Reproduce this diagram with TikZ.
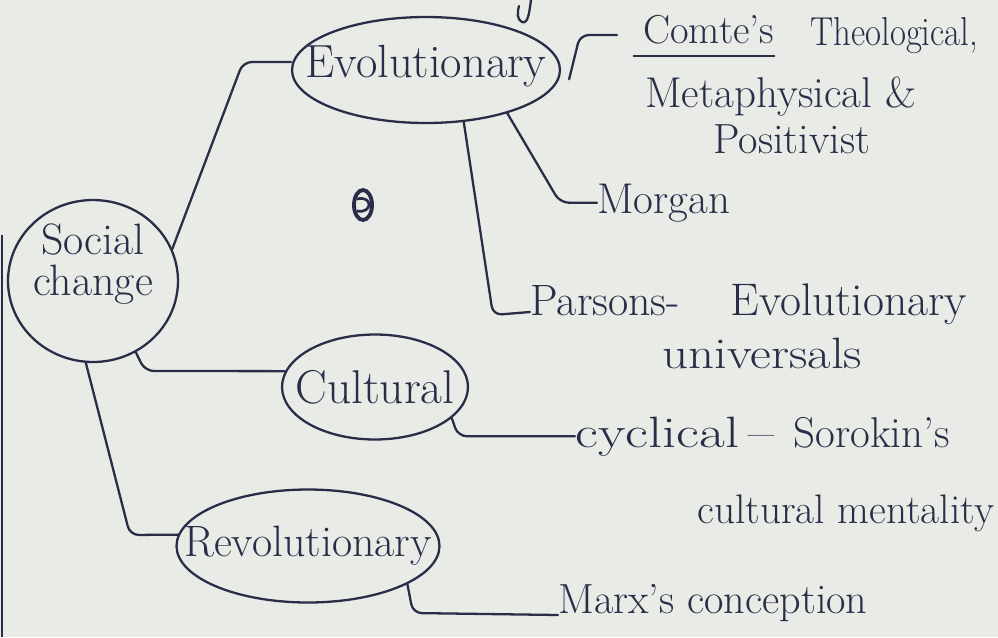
\documentclass[tikz,border=0pt]{standalone}
\usepackage{xcolor}
\usepackage{graphicx}
\usepackage{tikz}
\usetikzlibrary{positioning,shapes.geometric,calc}
\definecolor{paper}{HTML}{E8EBE6}
\definecolor{ink}{HTML}{2B2C47}

\tikzset{
  bubble/.style={draw=ink,ellipse,line width=1.3pt,inner sep=0pt,text=ink,font=\fontsize{#1}{#1}\selectfont},
  bubble/.default=26,
  note/.style={anchor=base west,inner sep=0pt,text=ink,font=\fontsize{#1}{#1}\selectfont},
  note/.default=24,
  link/.style={draw=ink,line width=1.3pt,line cap=round,line join=round,rounded corners=5pt}
}

\begin{document}
\begin{tikzpicture}[x=0.02cm,y=-0.02cm]
  \fill[paper] (0,0) rectangle (998,637);
  \useasboundingbox (0,0) rectangle (998,637);
  \draw[ink,line width=1pt] (2,235) -- (2,637);

  % bubbles (text kept out of the size)
  \node[bubble=25,minimum width=3.4cm,minimum height=3.24cm] (soc) at (93,281)
    {\makebox[0pt]{\raisebox{0.08cm}[0pt][0pt]{\begin{tabular}{@{}c@{}}Social\\[-2pt]change\end{tabular}}}};
  \node[bubble=26.5,minimum width=5.36cm,minimum height=2.12cm] (evo) at (426,70) {\makebox[0pt]{\raisebox{-0.14cm}[0pt][0pt]{Evolutionary}}};
  \node[bubble=27,minimum width=3.72cm,minimum height=2.1cm] (cul) at (375,387) {\makebox[0pt]{Cultural}};
  \node[bubble=25,minimum width=5.26cm,minimum height=2.26cm] (rev) at (308,546) {\makebox[0pt]{Revolutionary}};

  % leaves
  \node[note=23] (comte) at (643,43) {Comte's};
  \node[note=23] (theo) at (810,45) {\scalebox{0.86}[1]{Theological,}};
  \node[note=24.5] (meta) at (645,107) {Metaphysical \&};
  \node[note] (posi) at (713,153) {Positivist};
  \node[note=24.5] (morgan) at (597,213) {Morgan};
  \node[note=25] (parsons) at (530,315) {Parsons-};
  \node[note=26] (evouni) at (730,315) {Evolutionary};
  \node[note=25] (univ) at (662,368) {\scalebox{1.16}[1]{universals}};
  \node[note=25] (cyc) at (575,447) {\scalebox{1.28}[1]{cyclical\,--}};
  \node[note=24.5] (soro) at (793,447) {Sorokin's};
  \node[note=23.5] (ment) at (697,523) {cultural mentality};
  \node[note] (marx) at (558,613) {Marx's conception};

  % bends
  \coordinate (k1) at (243,62);
  \coordinate (k2) at (580,35);
  \coordinate (k3) at (560,0);
  \coordinate (k4) at (493,0);
  \coordinate (k5) at (145,371);
  \coordinate (k6) at (130,535);
  \coordinate (k7) at (458,0);
  \coordinate (k8) at (413,0);

  % connectors
  \draw[link] (soc.22) -- (k1) -- (k1 -| evo.west);
  \draw[link,shorten >=0.52cm] ([xshift=0.2cm]evo.-4) -- (k2) -- (k2 -| comte.west);
  \draw[ink,line width=1.2pt] ([xshift=-0.2cm,yshift=-0.26cm]comte.base west) -- ([yshift=-0.26cm]comte.base east);
  \draw[link] (evo.-28) -- (k3 |- morgan.west) -- (morgan.west);
  \draw[link] (evo.-54) -- (k4 |- parsons.base west) -- ([yshift=0.06cm]parsons.base west);
  \draw[link] (soc.-59) -- (k5) -- (cul.170);
  \draw[link] (soc.-95) -- (k6) -- (rev.175);
  \draw[link] (cul.-22) -- (k7 |- cyc.west) -- (cyc.west);
  \draw[link] (rev.-21) -- (k8 |- marx.base west) -- ([yshift=-0.04cm]marx.base west);

  % ink blot
  \draw[ink,line width=2.2pt] (363,205) ellipse [x radius=0.18cm,y radius=0.3cm];
  \draw[ink,line width=1.5pt] (357,199) .. controls (373,195) and (373,214) .. (357,211);
  % stray stroke at top
  \draw[ink,line width=1.3pt,line cap=round] (531,0) .. controls (529,14) and (528,24) .. (522,22) .. controls (517,20) and (517,12) .. (519,6);
\end{tikzpicture}
\end{document}
